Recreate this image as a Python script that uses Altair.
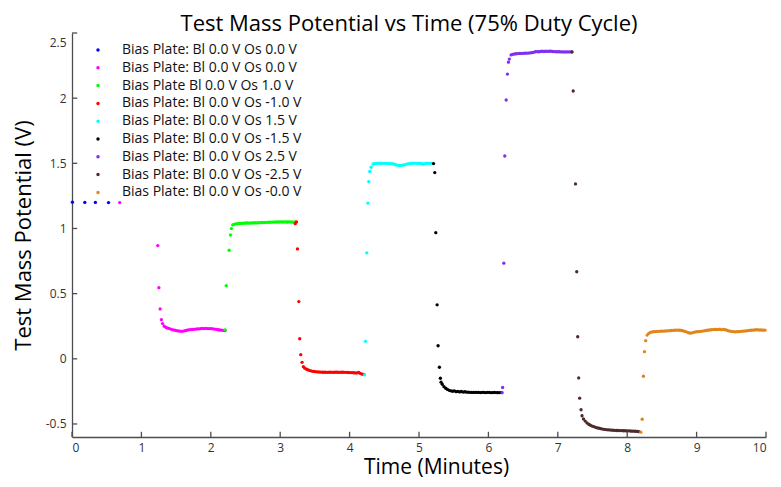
import altair as alt
import pandas as pd

STEP = 0.025  # sampling step (minutes) of the dense plateau readings

LABELS = [
    "Bias Plate: Bl 0.0 V Os 0.0 V",
    "Bias Plate: Bl 0.0 V Os 0.0 V ",
    "Bias Plate Bl 0.0 V Os 1.0 V",
    "Bias Plate: Bl 0.0 V Os -1.0 V",
    "Bias Plate: Bl 0.0 V Os 1.5 V",
    "Bias Plate: Bl 0.0 V Os -1.5 V",
    "Bias Plate: Bl 0.0 V Os 2.5 V",
    "Bias Plate: Bl 0.0 V Os -2.5 V",
    "Bias Plate: Bl 0.0 V Os -0.0 V",
]
COLORS = ["#0000ff", "#ff00ff", "#00ff00", "#ff0000", "#00ffff",
          "#000000", "#7f2ff0", "#4f2a2a", "#e0861a"]

# blue
BLUE_T = [0.006, 0.185, 0.337, 0.526]
BLUE_V = [1.202, 1.200, 1.200, 1.199]

# magenta
MAG_T = [0.687, 1.236, 1.252, 1.270, 1.288]
MAG_V = [1.199, 0.869, 0.546, 0.383, 0.300]
MAG_T0 = 1.305
MAG_P = [0.270, 0.250, 0.240, 0.235, 0.232, 0.226, 0.222, 0.220, 0.216, 0.214,
         0.212, 0.211, 0.213, 0.216, 0.219, 0.222, 0.224, 0.225, 0.226, 0.228,
         0.229, 0.230, 0.232, 0.233, 0.232, 0.233, 0.232, 0.231, 0.232, 0.230,
         0.228, 0.226, 0.223, 0.221, 0.220, 0.218, 0.217]

# green
GRN_T = [2.205, 2.222, 2.264, 2.283, 2.297, 2.316]
GRN_V = [0.222, 0.561, 0.833, 0.950, 0.999, 1.027]
GRN_T0 = 2.335
GRN_P = [1.032, 1.035, 1.037, 1.038, 1.039, 1.040, 1.041, 1.042, 1.042, 1.041,
         1.043, 1.043, 1.044, 1.043, 1.044, 1.045, 1.046, 1.045, 1.046, 1.047,
         1.048, 1.048, 1.049, 1.049, 1.050, 1.050, 1.050, 1.051, 1.050, 1.051,
         1.050, 1.050, 1.051, 1.050, 1.049, 1.050]

# red
RED_T = [3.216, 3.234, 3.249, 3.268, 3.281, 3.296, 3.315, 3.334]
RED_V = [1.037, 1.050, 0.843, 0.439, 0.154, 0.032, -0.027, -0.060]
RED_T0 = 3.355
RED_P = [-0.072, -0.080, -0.086, -0.090, -0.094, -0.097, -0.099, -0.100, -0.101, -0.102,
         -0.103, -0.103, -0.103, -0.104, -0.103, -0.103, -0.104, -0.103, -0.103, -0.103,
         -0.104, -0.103, -0.103, -0.104, -0.104, -0.105, -0.106, -0.106, -0.107, -0.108,
         -0.108, -0.105, -0.112, -0.118, -0.120]

# cyan
CYN_T = [4.214, 4.229, 4.248, 4.262, 4.276, 4.290, 4.310, 4.338]
CYN_V = [-0.124, 0.134, 0.813, 1.195, 1.360, 1.437, 1.470, 1.495]
CYN_T0 = 4.36
CYN_P = [1.497, 1.499, 1.500, 1.500, 1.500, 1.500, 1.500, 1.499, 1.498, 1.498,
         1.497, 1.495, 1.490, 1.486, 1.484, 1.484, 1.486, 1.488, 1.492, 1.496,
         1.498, 1.500, 1.500, 1.501, 1.500, 1.500, 1.499, 1.497, 1.495, 1.497,
         1.499, 1.500, 1.500, 1.500]

# black
BLK_T = [5.209, 5.227, 5.242, 5.261, 5.275, 5.294, 5.308, 5.318]
BLK_V = [1.498, 1.429, 0.968, 0.414, 0.100, -0.065, -0.149, -0.179]
BLK_T0 = 5.335
BLK_P = [-0.195, -0.214, -0.226, -0.235, -0.242, -0.246, -0.249, -0.246, -0.252, -0.250,
         -0.254, -0.251, -0.255, -0.253, -0.256, -0.256, -0.257, -0.258, -0.258, -0.257,
         -0.258, -0.258, -0.259, -0.258, -0.258, -0.259, -0.258, -0.258, -0.259, -0.259,
         -0.258, -0.259, -0.260, -0.259, -0.259]

# purple
PUR_T = [6.198, 6.205, 6.222, 6.236, 6.256, 6.274, 6.288, 6.302, 6.327]
PUR_V = [-0.260, -0.220, 0.734, 1.556, 1.986, 2.185, 2.276, 2.300, 2.332]
PUR_T0 = 6.35
PUR_P = [2.336, 2.339, 2.341, 2.342, 2.343, 2.343, 2.344, 2.345, 2.345, 2.346,
         2.347, 2.349, 2.352, 2.356, 2.357, 2.356, 2.358, 2.360, 2.358, 2.360,
         2.359, 2.360, 2.360, 2.358, 2.357, 2.356, 2.356, 2.356, 2.355, 2.355,
         2.355, 2.355, 2.355, 2.355, 2.355]

# brown
BRN_T = [7.205, 7.222, 7.255, 7.273, 7.287, 7.301, 7.315, 7.335, 7.349]
BRN_V = [2.355, 2.055, 1.342, 0.668, 0.169, -0.147, -0.302, -0.391, -0.437]
BRN_T0 = 7.37
BRN_P = [-0.462, -0.478, -0.492, -0.502, -0.510, -0.516, -0.521, -0.526, -0.530, -0.533,
         -0.536, -0.539, -0.541, -0.543, -0.545, -0.546, -0.547, -0.548, -0.549, -0.550,
         -0.550, -0.551, -0.551, -0.552, -0.552, -0.553, -0.553, -0.554, -0.555, -0.555,
         -0.556, -0.557, -0.559]

# orange
ORG_T = [8.196, 8.216, 8.234, 8.249, 8.267, 8.287]
ORG_V = [-0.563, -0.464, -0.134, 0.055, 0.139, 0.182]
ORG_T0 = 8.31
ORG_P = [0.195, 0.203, 0.206, 0.208, 0.209, 0.210, 0.211, 0.212, 0.212, 0.213,
         0.214, 0.215, 0.216, 0.217, 0.218, 0.219, 0.220, 0.220, 0.219, 0.217,
         0.214, 0.210, 0.205, 0.200, 0.197, 0.199, 0.203, 0.206, 0.208, 0.209,
         0.211, 0.213, 0.215, 0.217, 0.219, 0.221, 0.223, 0.224, 0.225, 0.225,
         0.224, 0.227, 0.222, 0.226, 0.223, 0.220, 0.215, 0.212, 0.209, 0.208,
         0.207, 0.208, 0.209, 0.210, 0.212, 0.213, 0.214, 0.216, 0.218, 0.219,
         0.220, 0.221, 0.223, 0.222, 0.221, 0.221, 0.220, 0.220]

X_TICKS = [0, 1, 2, 3, 4, 5, 6, 7, 8, 9, 10]
Y_TICKS = [-0.5, 0, 0.5, 1, 1.5, 2, 2.5]

SERIES = [
    (BLUE_T, BLUE_V, None, []),
    (MAG_T, MAG_V, MAG_T0, MAG_P),
    (GRN_T, GRN_V, GRN_T0, GRN_P),
    (RED_T, RED_V, RED_T0, RED_P),
    (CYN_T, CYN_V, CYN_T0, CYN_P),
    (BLK_T, BLK_V, BLK_T0, BLK_P),
    (PUR_T, PUR_V, PUR_T0, PUR_P),
    (BRN_T, BRN_V, BRN_T0, BRN_P),
    (ORG_T, ORG_V, ORG_T0, ORG_P),
]

rows = []
for label, (te, ve, t0, vp) in zip(LABELS, SERIES):
    for t, v in zip(te, ve):
        rows.append({"t": t, "v": v, "series": label})
    for i, v in enumerate(vp):
        rows.append({"t": round(t0 + i * STEP, 4), "v": v, "series": label})
df = pd.DataFrame(rows)

YMIN, YMAX = -0.6, 2.5
FONT = "Open Sans"
AXIS_COLOR = "#4d4d4d"

x_scale = alt.Scale(domain=[0, 10], nice=False, zero=False)
y_scale = alt.Scale(domain=[YMIN, YMAX], nice=False, zero=False)

X = alt.X("t:Q", scale=x_scale,
          axis=alt.Axis(title="Time (Minutes)", values=X_TICKS, format="d",
                        ticks=False, grid=False, labelPadding=5,
                        titlePadding=3, titleX=364, titleFontSize=21))
Y = alt.Y("v:Q", scale=y_scale,
          axis=alt.Axis(title="Test Mass Potential (V)", values=Y_TICKS,
                        labelExpr="datum.value < 0 ? '-' + format(-datum.value, '.1~f') : format(datum.value, '.1~f')",
                        ticks=False, grid=False, labelPadding=6,
                        labelFlush=True, labelFlushOffset=-4,
                        titlePadding=10, titleFontSize=22))

points = alt.Chart(df).mark_circle(size=11, opacity=1).encode(
    x=X, y=Y,
    color=alt.Color("series:N",
                    scale=alt.Scale(domain=LABELS, range=COLORS),
                    sort=LABELS,
                    legend=alt.Legend(title=None, orient="none",
                                      legendX=19, legendY=10,
                                      symbolType="circle", symbolSize=12,
                                      labelFontSize=14, labelFont=FONT,
                                      labelColor="#111111", labelOffset=17,
                                      rowPadding=3.8, padding=0,
                                      labelLimit=400)),
    order=alt.Order("idx:Q"),
).transform_window(idx="row_number()")

xt = alt.Chart(pd.DataFrame({"t": X_TICKS})).mark_rule(
    color=AXIS_COLOR, strokeWidth=1.3).encode(
    x=X, y=alt.datum(YMIN), y2=alt.datum(YMIN + 0.04))

yt = alt.Chart(pd.DataFrame({"v": Y_TICKS})).mark_rule(
    color=AXIS_COLOR, strokeWidth=1.3).encode(
    y=Y, x=alt.datum(0), x2=alt.datum(0.075))

chart = alt.layer(points, xt, yt).properties(
    width=694, height=404,
    title=alt.Title("Test Mass Potential vs Time (75% Duty Cycle)",
                    fontSize=22, font=FONT, fontWeight="normal",
                    color="#000000", anchor="middle", dx=-10, offset=-4),
    autosize=alt.AutoSizeParams(type="none"),
    padding={"left": 64, "top": 25, "right": 7, "bottom": 42},
).configure_view(stroke=None).configure_axis(
    domainColor=AXIS_COLOR, domainWidth=1.3,
    labelFont=FONT, labelFontSize=12, labelColor="#333333",
    titleFont=FONT, titleFontWeight="normal", titleColor="#000000",
)

chart.save("out.html", embed_options={"renderer": "svg", "actions": False})
